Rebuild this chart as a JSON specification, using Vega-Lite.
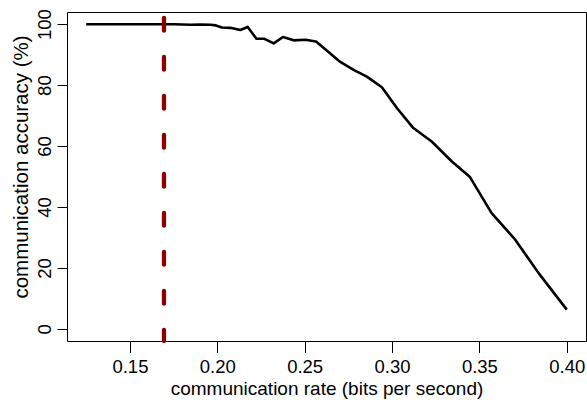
{
  "$schema": "https://vega.github.io/schema/vega-lite/v6.json",
  "width": 519,
  "height": 329,
  "autosize": "none",
  "padding": {"left": 67, "top": 12, "right": 1, "bottom": 59},
  "background": "white",
  "config": {
    "view": {"stroke": "black", "strokeWidth": 1},
    "font": "Liberation Sans"
  },
  "datasets": {
    "curve": [
      {"rate": 0.125, "accuracy": 100},
      {"rate": 0.13, "accuracy": 100},
      {"rate": 0.135, "accuracy": 100},
      {"rate": 0.14, "accuracy": 100},
      {"rate": 0.145, "accuracy": 100},
      {"rate": 0.15, "accuracy": 100},
      {"rate": 0.155, "accuracy": 100},
      {"rate": 0.16, "accuracy": 100},
      {"rate": 0.165, "accuracy": 100},
      {"rate": 0.17, "accuracy": 100},
      {"rate": 0.175, "accuracy": 100},
      {"rate": 0.18, "accuracy": 99.9},
      {"rate": 0.185, "accuracy": 99.8},
      {"rate": 0.19, "accuracy": 99.9},
      {"rate": 0.1961, "accuracy": 99.8},
      {"rate": 0.1992, "accuracy": 99.6},
      {"rate": 0.2027, "accuracy": 98.9},
      {"rate": 0.2075, "accuracy": 98.8},
      {"rate": 0.2132, "accuracy": 98.1},
      {"rate": 0.2174, "accuracy": 99.1},
      {"rate": 0.2224, "accuracy": 95.2},
      {"rate": 0.227, "accuracy": 95.2},
      {"rate": 0.2323, "accuracy": 93.7},
      {"rate": 0.2376, "accuracy": 95.8},
      {"rate": 0.2437, "accuracy": 94.7},
      {"rate": 0.2504, "accuracy": 94.9},
      {"rate": 0.2565, "accuracy": 94.3},
      {"rate": 0.2628, "accuracy": 91.3},
      {"rate": 0.2704, "accuracy": 87.6},
      {"rate": 0.278, "accuracy": 85.0},
      {"rate": 0.2856, "accuracy": 82.8},
      {"rate": 0.2942, "accuracy": 79.3},
      {"rate": 0.3029, "accuracy": 72.4},
      {"rate": 0.3122, "accuracy": 65.9},
      {"rate": 0.3227, "accuracy": 61.5},
      {"rate": 0.3341, "accuracy": 55.0},
      {"rate": 0.3446, "accuracy": 49.8},
      {"rate": 0.357, "accuracy": 38.0},
      {"rate": 0.3703, "accuracy": 29.4},
      {"rate": 0.384, "accuracy": 18.2},
      {"rate": 0.4, "accuracy": 6.3}
    ],
    "threshold": [{"rate": 0.1695}]
  },
  "layer": [
    {
      "data": {"name": "curve"},
      "mark": {"type": "line", "color": "black", "strokeWidth": 2.6, "strokeJoin": "round"},
      "encoding": {
        "x": {
          "field": "rate", "type": "quantitative",
          "scale": {"domain": [0.114, 0.411], "nice": false, "zero": false},
          "axis": {
            "values": [0.15, 0.2, 0.25, 0.3, 0.35, 0.4],
            "format": ".2f",
            "domain": false,
            "grid": false,
            "tickColor": "black",
            "tickSize": 11.5,
            "tickWidth": 1,
            "labelFont": "Liberation Sans",
            "labelFontSize": 18.5,
            "labelColor": "black",
            "labelPadding": 4.5,
            "title": "communication rate (bits per second)",
            "titleFont": "Liberation Sans",
            "titleFontSize": 19,
            "titleFontWeight": "normal",
            "titleColor": "black",
            "titleBaseline": "alphabetic",
            "titleY": 53.5
          }
        },
        "y": {
          "field": "accuracy", "type": "quantitative",
          "scale": {"domain": [-4, 104], "nice": false, "zero": false},
          "axis": {
            "values": [0, 20, 40, 60, 80, 100],
            "domain": false,
            "grid": false,
            "tickColor": "black",
            "tickSize": 10,
            "tickWidth": 1,
            "labelFont": "Liberation Sans",
            "labelFontSize": 18.5,
            "labelColor": "black",
            "labelAngle": 270,
            "labelAlign": "center",
            "labelBaseline": "alphabetic",
            "labelPadding": 6.7,
            "title": "communication accuracy (%)",
            "titleFont": "Liberation Sans",
            "titleFontSize": 20.5,
            "titleFontWeight": "normal",
            "titleColor": "black",
            "titleAngle": 270,
            "titleBaseline": "alphabetic",
            "titleX": -40,
            "titleY": 154.5
          }
        }
      }
    },
    {
      "data": {"name": "threshold"},
      "mark": {"type": "rule", "color": "#8B0000", "strokeWidth": 4.3, "strokeCap": "round", "strokeDash": [12.7, 26.3], "strokeDashOffset": 33},
      "encoding": {
        "x": {"field": "rate", "type": "quantitative"},
        "y": {"datum": 104},
        "y2": {"datum": -4}
      }
    }
  ]
}
